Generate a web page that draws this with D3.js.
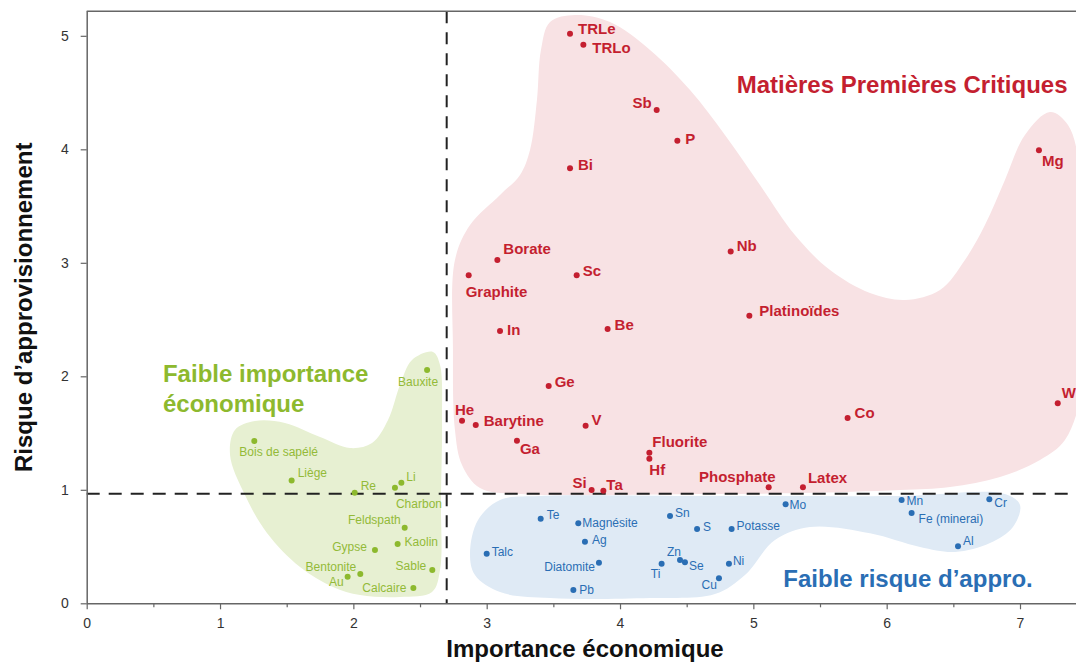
<!DOCTYPE html>
<html>
<head>
<meta charset="utf-8">
<script src="https://cdn.jsdelivr.net/npm/d3@7"></script>
<style>
  html, body { margin: 0; padding: 0; background: #fff; }
  svg { display: block; font-family: "Liberation Sans", Arial, Helvetica, sans-serif; }
</style>
</head>
<body>
<svg id="chart" width="1076" height="669"></svg>
<script>
// ---------------- DATA ----------------
// Matières Premières Critiques (red)
const critiqueNames = ["TRLe","TRLo","Sb","P","Bi","Borate","Graphite","Sc","Nb","In","Be","Platinoïdes","Ge","He","Barytine","V","Ga","Fluorite","Hf","Si","Ta","Phosphate","Latex","Co","W","Mg"];
const critiqueImportance = [3.625,3.725,4.275,4.43,3.625,3.08,2.865,3.675,4.83,3.10,3.907,4.97,3.465,2.815,2.918,3.742,3.227,4.22,4.22,3.787,3.875,5.115,5.372,5.707,7.283,7.142];
const critiqueRisque = [5.018,4.922,4.346,4.076,3.833,3.025,2.89,2.89,3.10,2.40,2.417,2.534,1.915,1.609,1.571,1.565,1.433,1.327,1.274,0.998,0.992,1.022,1.022,1.633,1.762,3.991];

// Faible risque d'approvisionnement (blue)
const risqueNames = ["Te","Magnésite","Ag","Talc","Diatomite","Pb","Sn","S","Potasse","Zn","Se","Ti","Ni","Cu","Mo","Mn","Fe (minerai)","Cr","Al"];
const risqueImportance = [3.405,3.687,3.737,3.0,3.842,3.65,4.375,4.578,4.837,4.45,4.487,4.312,4.817,4.742,5.242,6.112,6.187,6.77,6.535];
const risqueRisque = [0.745,0.705,0.543,0.437,0.358,0.117,0.769,0.655,0.655,0.381,0.361,0.349,0.349,0.220,0.872,0.91,0.796,0.916,0.502];

// Faible importance économique (green)
const importanceNames = ["Bauxite","Bois de sapélé","Liège","Re","Li","Charbon","Feldspath","Kaolin","Gypse","Sable","Bentonite","Au","Calcaire"];
const importanceImportance = [2.553,1.257,1.537,2.01,2.36,2.312,2.385,2.332,2.162,2.592,2.052,1.957,2.45];
const importanceRisque = [2.056,1.43,1.083,0.975,1.063,1.019,0.666,0.522,0.47,0.293,0.258,0.235,0.135];

// Region outlines (data units: [importance, risque])
const critiqueRegion = [[3.663,5.183],[3.925,5.121],[4.225,4.875],[4.525,4.522],[4.787,4.126],[5.05,3.685],[5.312,3.245],[5.575,2.936],[5.875,2.734],[6.137,2.672],[6.4,2.76],[6.587,3.025],[6.737,3.333],[6.887,3.73],[7.037,4.126],[7.225,4.328],[7.36,4.214],[7.45,3.818],[7.488,2.672],[7.465,1.879],[7.337,1.439],[7.15,1.263],[6.85,1.113],[6.475,1.025],[6.1,0.998],[5.35,0.971],[4.6,0.962],[3.25,0.962],[2.95,1.015],[2.815,1.218],[2.762,1.526],[2.747,2.233],[2.762,3.025],[2.875,3.333],[3.1,3.598],[3.25,3.774],[3.325,3.994],[3.377,4.434],[3.407,4.874],[3.475,5.121]];
const risqueRegion = [[2.875,0.443],[2.935,0.734],[3.1,0.91],[3.4,0.946],[4.6,0.946],[6.1,0.946],[6.887,0.963],[7.0,0.866],[6.947,0.672],[6.775,0.531],[6.512,0.452],[6.25,0.496],[5.875,0.617],[5.425,0.672],[5.162,0.557],[4.937,0.249],[4.712,0.081],[4.225,0.046],[3.475,0.046],[3.1,0.099],[2.912,0.249]];
const importanceRegion = [[2.597,2.215],[2.65,2.1],[2.665,1.615],[2.657,0.91],[2.65,0.293],[2.59,0.1],[2.35,0.056],[2.05,0.073],[1.847,0.144],[1.6,0.32],[1.352,0.62],[1.187,0.954],[1.075,1.307],[1.112,1.527],[1.262,1.606],[1.487,1.589],[1.75,1.465],[1.975,1.368],[2.14,1.412],[2.26,1.615],[2.35,1.923],[2.44,2.144]];

// Thresholds
const seuilImportance = 2.7;
const seuilRisque = 0.965;

// Axis ticks
const xTicks = [0,1,2,3,4,5,6,7];
const xMinorTicks = [0.5,1.5,2.5,3.5,4.5,5.5,6.5];
const yTicks = [0,1,2,3,4,5];

// Texts
const xTitle = "Importance économique";
const yTitle = "Risque d’approvisionnement";
const regionTitles = [
  {lines:["Matières Premières Critiques"], x:4.875, y:4.496, group:"critique"},
  {lines:["Faible importance","économique"], x:0.572, y:1.953, group:"importance"},
  {lines:["Faible risque d’appro."], x:5.225, y:0.144, group:"risque"}
];

// ---------------- LAYOUT / STYLE ----------------
const colors = {
  critique: {dot:"#c41f30", fill:"#f8e2e4", text:"#c41f30"},
  risque:   {dot:"#2a6eb4", fill:"#dfeaf5", text:"#2a6eb4"},
  importance:{dot:"#8db92e", fill:"#e7f0d2", text:"#93ba38"}
};
// label placement: [anchor, dx, dy] in px, dominant-baseline central
const labelPlacement = {
  "TRLe":["start",8,-5],"TRLo":["start",9,3],"Sb":["end",-5,-8],"P":["start",8,-2],"Bi":["start",8,-4],
  "Borate":["start",6,-11],"Graphite":["start",-3,16],"Sc":["start",6,-5],"Nb":["start",6,-6],"In":["start",7,-1],
  "Be":["start",7,-4],"Platinoïdes":["start",10,-5],"Ge":["start",6,-4],"He":["start",-7,-11],"Barytine":["start",8,-4],
  "V":["start",6,-6],"Ga":["start",3,8],"Fluorite":["start",3,-11],"Hf":["start",0,11],"Si":["end",-5,-8],
  "Ta":["start",3,-6],"Phosphate":["end",7,-11],"Latex":["start",5,-10],"Co":["start",7,-5],"W":["start",4,-11],"Mg":["start",3,10],
  "Te":["start",6,-4],"Magnésite":["start",4,0],"Ag":["start",7,-2],"Talc":["start",5,-2],"Diatomite":["end",-4,4],
  "Pb":["start",6,0],"Sn":["start",5,-3],"S":["start",6,-2],"Potasse":["start",5,-3],"Zn":["middle",-6,-8],
  "Se":["start",4,4],"Ti":["middle",-6,10],"Ni":["start",4,-3],"Cu":["end",-2,7],"Mo":["start",4,1],
  "Mn":["start",5,1],"Fe (minerai)":["start",7,6],"Cr":["start",5,4],"Al":["start",5,-5],
  "Bauxite":["middle",-9,12],"Bois de sapélé":["start",-15,11],"Liège":["start",6,-7],"Re":["start",6,-7],
  "Li":["start",5,-6],"Charbon":["start",1,16],"Feldspath":["end",-4,-8],"Kaolin":["start",7,-2],
  "Gypse":["end",-8,-3],"Sable":["end",-6,-4],"Bentonite":["end",-4,-7],"Au":["end",-4,5],"Calcaire":["end",-7,0]
};

const WIDTH = 1076, HEIGHT = 669;
const mLeft = 86.7, mRight = 1076, mTop = 11.3, mBottom = 603.3;

const x = d3.scaleLinear().domain([0, 7.42]).range([mLeft, mRight]);
const y = d3.scaleLinear().domain([0, 5.216]).range([mBottom, mTop]);

const svg = d3.select("#chart");

svg.append("defs").append("clipPath").attr("id","plotclip")
  .append("rect").attr("x",mLeft).attr("y",mTop).attr("width",mRight-mLeft).attr("height",mBottom-mTop);

const blobLine = d3.line().x(d=>x(d[0])).y(d=>y(d[1])).curve(d3.curveCatmullRomClosed.alpha(0.5));

const regions = svg.append("g").attr("clip-path","url(#plotclip)");
regions.append("path").attr("d", blobLine(critiqueRegion)).attr("fill", colors.critique.fill);
regions.append("path").attr("d", blobLine(risqueRegion)).attr("fill", colors.risque.fill);
regions.append("path").attr("d", blobLine(importanceRegion)).attr("fill", colors.importance.fill);

// Threshold dashed lines
svg.append("line")
  .attr("x1", x(seuilImportance)).attr("x2", x(seuilImportance))
  .attr("y1", mTop).attr("y2", y(0))
  .attr("stroke","#222").attr("stroke-width",2).attr("stroke-dasharray","12,9");
svg.append("line")
  .attr("x1", x(0)).attr("x2", mRight)
  .attr("y1", y(seuilRisque)).attr("y2", y(seuilRisque))
  .attr("stroke","#222").attr("stroke-width",2).attr("stroke-dasharray","13,9");

// Axes
const axisColor = "#666";
const xAxis = svg.append("g").attr("transform",`translate(0,${mBottom})`)
  .call(d3.axisBottom(x).tickValues(xTicks).tickSize(6).tickPadding(9).tickFormat(d3.format("d")));
const xMinor = svg.append("g").attr("transform",`translate(0,${mBottom})`)
  .call(d3.axisBottom(x).tickValues(xMinorTicks).tickSize(4).tickFormat(""));
xMinor.select(".domain").remove();
const yAxis = svg.append("g").attr("transform",`translate(${mLeft},0)`)
  .call(d3.axisLeft(y).tickValues(yTicks).tickSize(6).tickPadding(12).tickFormat(d3.format("d")));

[xAxis, xMinor, yAxis].forEach(g => {
  g.selectAll(".domain").attr("stroke", axisColor).attr("stroke-width",1.5);
  g.selectAll(".tick line").attr("stroke", axisColor).attr("stroke-width",1.2);
  g.selectAll(".tick text").attr("fill","#333").style("font-size","14px")
    .style("font-family",'"Liberation Sans", Arial, sans-serif');
});
xAxis.select(".domain").attr("d", `M${mLeft},0.5H${mRight}`);
yAxis.select(".domain").attr("d", `M0.5,${mTop}V${mBottom}`);
svg.append("line").attr("x1",mLeft).attr("x2",mRight).attr("y1",mTop).attr("y2",mTop)
  .attr("stroke",axisColor).attr("stroke-width",1.5);

// Points and labels
function drawGroup(names, xs, ys, key, fontSize, weight) {
  const data = names.map((n,i)=>({name:n, xv:xs[i], yv:ys[i]}));
  const g = svg.append("g");
  g.selectAll("circle").data(data).join("circle")
    .attr("cx", d=>x(d.xv)).attr("cy", d=>y(d.yv)).attr("r", 3)
    .attr("fill", colors[key].dot);
  g.selectAll("text").data(data).join("text")
    .attr("x", d=>x(d.xv) + labelPlacement[d.name][1])
    .attr("y", d=>y(d.yv) + labelPlacement[d.name][2])
    .attr("text-anchor", d=>labelPlacement[d.name][0])
    .attr("dominant-baseline","central")
    .attr("fill", colors[key].text)
    .style("font-size", fontSize+"px").style("font-weight", weight)
    .text(d=>d.name);
}
drawGroup(importanceNames, importanceImportance, importanceRisque, "importance", 12, "normal");
drawGroup(risqueNames, risqueImportance, risqueRisque, "risque", 12, "normal");
drawGroup(critiqueNames, critiqueImportance, critiqueRisque, "critique", 15, "bold");

// Region titles
regionTitles.forEach(t => {
  const tx = svg.append("text")
    .attr("x", x(t.x)).attr("y", y(t.y))
    .attr("fill", t.group === "importance" ? colors.importance.dot : colors[t.group].text)
    .style("font-size","24px").style("font-weight","bold");
  t.lines.forEach((ln,i) => {
    tx.append("tspan").attr("x", x(t.x)).attr("dy", i===0 ? 0 : 30).text(ln);
  });
});

// Axis titles
svg.append("text")
  .attr("x", 585).attr("y", 657)
  .attr("text-anchor","middle").attr("fill","#111")
  .style("font-size","24px").style("font-weight","bold")
  .text(xTitle);
svg.append("text")
  .attr("transform", `translate(32, ${(mTop+mBottom)/2}) rotate(-90)`)
  .attr("text-anchor","middle").attr("fill","#111")
  .style("font-size","24px").style("font-weight","bold")
  .text(yTitle);
</script>
</body>
</html>
